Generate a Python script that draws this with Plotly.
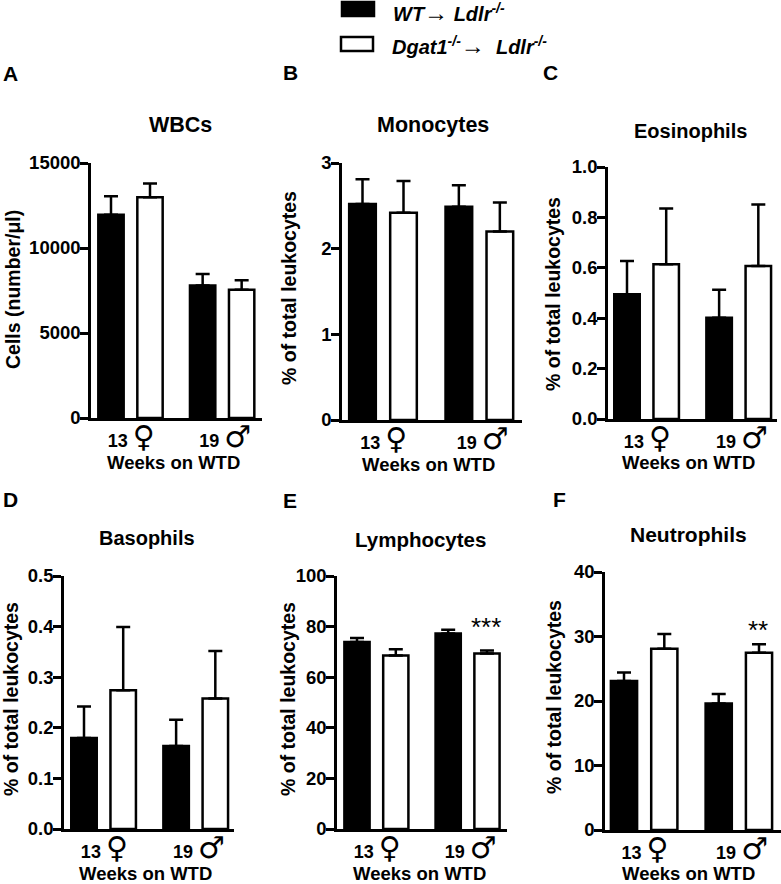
import plotly.graph_objects as go

# group slots on the x axis, shared by every panel
slots_wt = [0, 2.35]
slots_ko = [1, 3.35]
group_centers = [0.52, 2.93]
group_labels = ["13 ♀", "19 ♂"]

titles = ["WBCs", "Monocytes", "Eosinophils", "Basophils", "Lymphocytes", "Neutrophils"]
letters = ["A", "B", "C", "D", "E", "F"]
ylabels = ["Cells (number/μl)"] + ["% of total leukocytes"] * 5
xlabel = "Weeks on WTD"

name_wt = "WT→ Ldlr-/-"
name_ko = "Dgat1-/-→ Ldlr-/-"

# means, in order 13 weeks, 19 weeks
wbc_wt, wbc_ko = [11960, 7800], [12980, 7550]
mono_wt, mono_ko = [2.52, 2.49], [2.42, 2.20]
eos_wt, eos_ko = [0.495, 0.402], [0.614, 0.607]
baso_wt, baso_ko = [0.180, 0.164], [0.274, 0.258]
lymph_wt, lymph_ko = [73.9, 77.3], [68.6, 69.4]
neut_wt, neut_ko = [23.1, 19.6], [28.1, 27.5]

# top of the error bars
wbc_wt_top, wbc_ko_top = [13040, 8470], [13800, 8100]
mono_wt_top, mono_ko_top = [2.81, 2.74], [2.79, 2.54]
eos_wt_top, eos_ko_top = [0.627, 0.513], [0.835, 0.851]
baso_wt_top, baso_ko_top = [0.242, 0.216], [0.399, 0.352]
lymph_wt_top, lymph_ko_top = [75.5, 78.8], [71.0, 70.6]
neut_wt_top, neut_ko_top = [24.4, 21.1], [30.4, 28.8]

y_ticks = [
    [0, 5000, 10000, 15000],
    [0, 1, 2, 3],
    [0, 0.2, 0.4, 0.6, 0.8, 1.0],
    [0, 0.1, 0.2, 0.3, 0.4, 0.5],
    [0, 20, 40, 60, 80, 100],
    [0, 10, 20, 30, 40],
]
y_tick_labels = [
    ["0", "5000", "10000", "15000"],
    ["0", "1", "2", "3"],
    ["0.0", "0.2", "0.4", "0.6", "0.8", "1.0"],
    ["0.0", "0.1", "0.2", "0.3", "0.4", "0.5"],
    ["0", "20", "40", "60", "80", "100"],
    ["0", "10", "20", "30", "40"],
]

series = [
    (wbc_wt, wbc_wt_top, wbc_ko, wbc_ko_top),
    (mono_wt, mono_wt_top, mono_ko, mono_ko_top),
    (eos_wt, eos_wt_top, eos_ko, eos_ko_top),
    (baso_wt, baso_wt_top, baso_ko, baso_ko_top),
    (lymph_wt, lymph_wt_top, lymph_ko, lymph_ko_top),
    (neut_wt, neut_wt_top, neut_ko, neut_ko_top),
]

W, H = 781, 884

# panel boxes in pixels: axis x, right end, top, bottom, first bar centre, px per slot
boxes = [
    (91, 262, 163, 418, 111, 39.0),
    (342, 522, 163, 420, 362.5, 41.0),
    (608, 777, 167, 419, 627, 39.2),
    (64, 234, 576, 829, 84, 39.2),
    (337, 507, 576, 829, 357, 38.8),
    (605, 781, 572, 830, 624, 40.3),
]
# where the texts sit, in pixels
title_pos = [(180, 125, 21.5), (433, 125, 21.5), (690, 131, 20), (147, 538, 20), (420, 539, 20.5), (688, 534, 21)]
letter_pos = [(1, 73), (281, 72), (541, 72), (1, 499), (281, 500), (551, 499)]
ylabel_pos = [(13, 290), (289, 288), (553, 294), (11, 699), (288, 699), (554, 697)]
xlabel_pos = [(173, 462), (428, 464), (688, 462), (145, 873), (419, 873), (688, 873)]

FONT = "Liberation Sans"


def px(x):
    return x / W


def py(y):
    return 1 - y / H


def tick_text(label):
    num, sym = label.split(" ")
    return f"<b>{num}</b> <span style='font-size:30px;font-family:DejaVu Sans'>{sym}</span>"


fig = go.Figure()
annotations = []

for i in range(6):
    n = "" if i == 0 else str(i + 1)
    left, right, top, bottom, c0, unit = boxes[i]
    wt, wt_top, ko, ko_top = series[i]

    fig.add_trace(go.Bar(
        x=slots_wt, y=wt, width=0.65, name=name_wt, showlegend=False,
        xaxis="x" + n, yaxis="y" + n,
        marker=dict(color="black", line=dict(color="black", width=2.5)),
        error_y=dict(type="data", symmetric=False,
                     array=[t - v for t, v in zip(wt_top, wt)], arrayminus=[0, 0],
                     color="black", thickness=2.5, width=7),
    ))
    fig.add_trace(go.Bar(
        x=slots_ko, y=ko, width=0.65, name=name_ko, showlegend=False,
        xaxis="x" + n, yaxis="y" + n,
        marker=dict(color="white", line=dict(color="black", width=2.5)),
        error_y=dict(type="data", symmetric=False,
                     array=[t - v for t, v in zip(ko_top, ko)], arrayminus=[0, 0],
                     color="black", thickness=2.5, width=7),
    ))

    fig.update_layout({
        "xaxis" + n: dict(
            domain=[px(left), px(right)],
            range=[(left - c0) / unit, (right - c0) / unit],
            anchor="y" + n, showgrid=False, zeroline=False, automargin=False,
            showline=True, linecolor="black", linewidth=2.5,
            tickmode="array", tickvals=group_centers,
            ticktext=[tick_text(s) for s in group_labels],
            ticks="", ticklabelstandoff=5,
            tickfont=dict(family=FONT, size=18, color="black"),
        ),
        "yaxis" + n: dict(
            domain=[py(bottom), py(top)],
            range=[0, y_ticks[i][-1]],
            anchor="x" + n, showgrid=False, zeroline=False, automargin=False,
            showline=True, linecolor="black", linewidth=2.5,
            tickmode="array", tickvals=y_ticks[i], ticktext=y_tick_labels[i],
            ticks="outside", ticklen=8, tickwidth=2.5, tickcolor="black",
            ticklabelstandoff=-4,
            tickfont=dict(family=FONT, size=18.5, color="black", weight="bold"),
        ),
    })

    tx, ty, ts = title_pos[i]
    annotations.append(dict(text=f"<b>{titles[i]}</b>", x=px(tx), y=py(ty), font=dict(size=ts)))
    lx, ly = letter_pos[i]
    annotations.append(dict(text=f"<b>{letters[i]}</b>", x=px(lx), y=py(ly), xanchor="left", font=dict(size=21)))
    yx, yy = ylabel_pos[i]
    annotations.append(dict(text=f"<b>{ylabels[i]}</b>", x=px(yx), y=py(yy), textangle=-90, font=dict(size=19.5)))
    wx, wy = xlabel_pos[i]
    annotations.append(dict(text=f"<b>{xlabel}</b>", x=px(wx), y=py(wy), font=dict(size=18.5)))

# significance stars over the knockout bars at 19 weeks
annotations.append(dict(text="***", x=px(486), y=py(627), font=dict(size=26)))
annotations.append(dict(text="**", x=px(758), y=py(630), font=dict(size=26)))

# legend drawn by hand above the panels
arrow = "<span style='font-size:24px'>→</span>"
legend_text = f"<b><i>WT</i></b>{arrow} <b><i>Ldlr<sup>-/-</sup></i></b>"
legend_text2 = f"<b><i>Dgat1<sup>-/-</sup></i></b>{arrow}  <b><i>Ldlr<sup>-/-</sup></i></b>"
annotations.append(dict(text=legend_text, x=px(391), y=py(13), xanchor="left", font=dict(size=20)))
annotations.append(dict(text=legend_text2, x=px(390), y=py(45), xanchor="left", font=dict(size=20)))

shapes = [
    dict(type="rect", xref="paper", yref="paper", x0=px(342), x1=px(374), y0=py(16), y1=py(2),
         fillcolor="black", line=dict(color="black", width=2.5)),
    dict(type="rect", xref="paper", yref="paper", x0=px(341), x1=px(373), y0=py(51), y1=py(37),
         fillcolor="white", line=dict(color="black", width=2.5)),
]

for a in annotations:
    a.setdefault("xanchor", "center")
    a.update(xref="paper", yref="paper", yanchor="middle", showarrow=False)
    a["font"].update(family=FONT, color="black")

fig.update_layout(
    width=W, height=H, autosize=False,
    margin=dict(l=0, r=0, t=0, b=0),
    paper_bgcolor="white", plot_bgcolor="white",
    barmode="overlay", annotations=annotations, shapes=shapes,
)

fig.write_html("out.html", config={"displayModeBar": False},
               post_script="document.body.style.margin='0';")
